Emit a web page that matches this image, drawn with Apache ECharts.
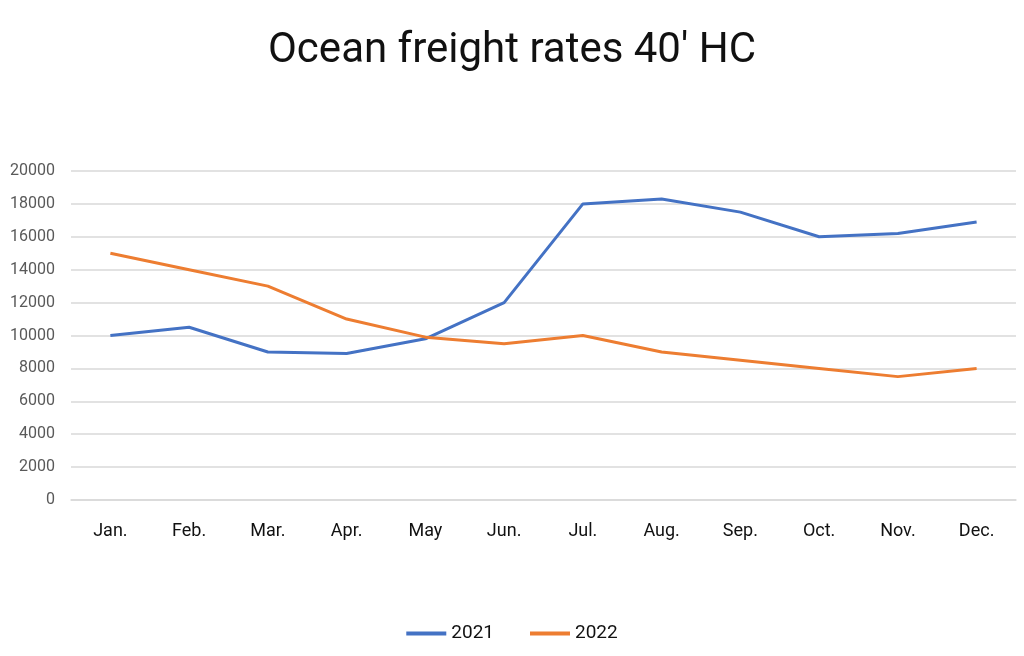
<!DOCTYPE html>
<html><head><meta charset="utf-8">
<script src="https://cdn.jsdelivr.net/npm/echarts@6/dist/echarts.min.js"></script>
<style>html,body{margin:0;padding:0;background:#fff}#c{width:1024px;height:656px}</style>
</head><body><div id="c"></div>
<script>
const months = ['Jan.','Feb.','Mar.','Apr.','May','Jun.','Jul.','Aug.','Sep.','Oct.','Nov.','Dec.'];
const s2021 = [10000,10500,9000,8900,9800,12000,18000,18300,17500,16000,16200,16900];
const s2022 = [15000,14000,13000,11000,9900,9500,10000,9000,8500,8000,7500,8000];
const chart = echarts.init(document.getElementById('c'));
chart.setOption({
  backgroundColor:'#fff',
  animation:false,
  title:{text:"Ocean freight rates 40' HC",left:'center',top:25,
    textStyle:{fontFamily:'Roboto',fontSize:42,fontWeight:'normal',color:'#111'}},
  legend:{bottom:8,left:'center',itemWidth:40,itemHeight:4,itemGap:36,icon:'rect',
    textStyle:{fontFamily:'Roboto',fontSize:19,color:'#111'},data:['2021','2022']},
  grid:{left:71,right:8,top:171,bottom:156},
  xAxis:{type:'category',data:months,boundaryGap:true,
    axisLine:{show:true,lineStyle:{color:'#d9d9d9',width:1.5}},axisTick:{show:false},
    axisLabel:{margin:22,fontFamily:'Roboto',fontSize:18,color:'#111'}},
  yAxis:{type:'value',min:0,max:20000,interval:2000,
    axisLine:{show:false},axisTick:{show:false},
    axisLabel:{margin:16,fontFamily:'Roboto',fontSize:16,color:'#595959',formatter:v=>String(v)},
    splitLine:{lineStyle:{color:'#d9d9d9',width:1.5}}},
  series:[
    {name:'2021',type:'line',data:s2021,symbol:'none',lineStyle:{width:3,color:'#4472C4'},itemStyle:{color:'#4472C4'}},
    {name:'2022',type:'line',data:s2022,symbol:'none',lineStyle:{width:3,color:'#ED7D31'},itemStyle:{color:'#ED7D31'}}
  ]
});
</script></body></html>
